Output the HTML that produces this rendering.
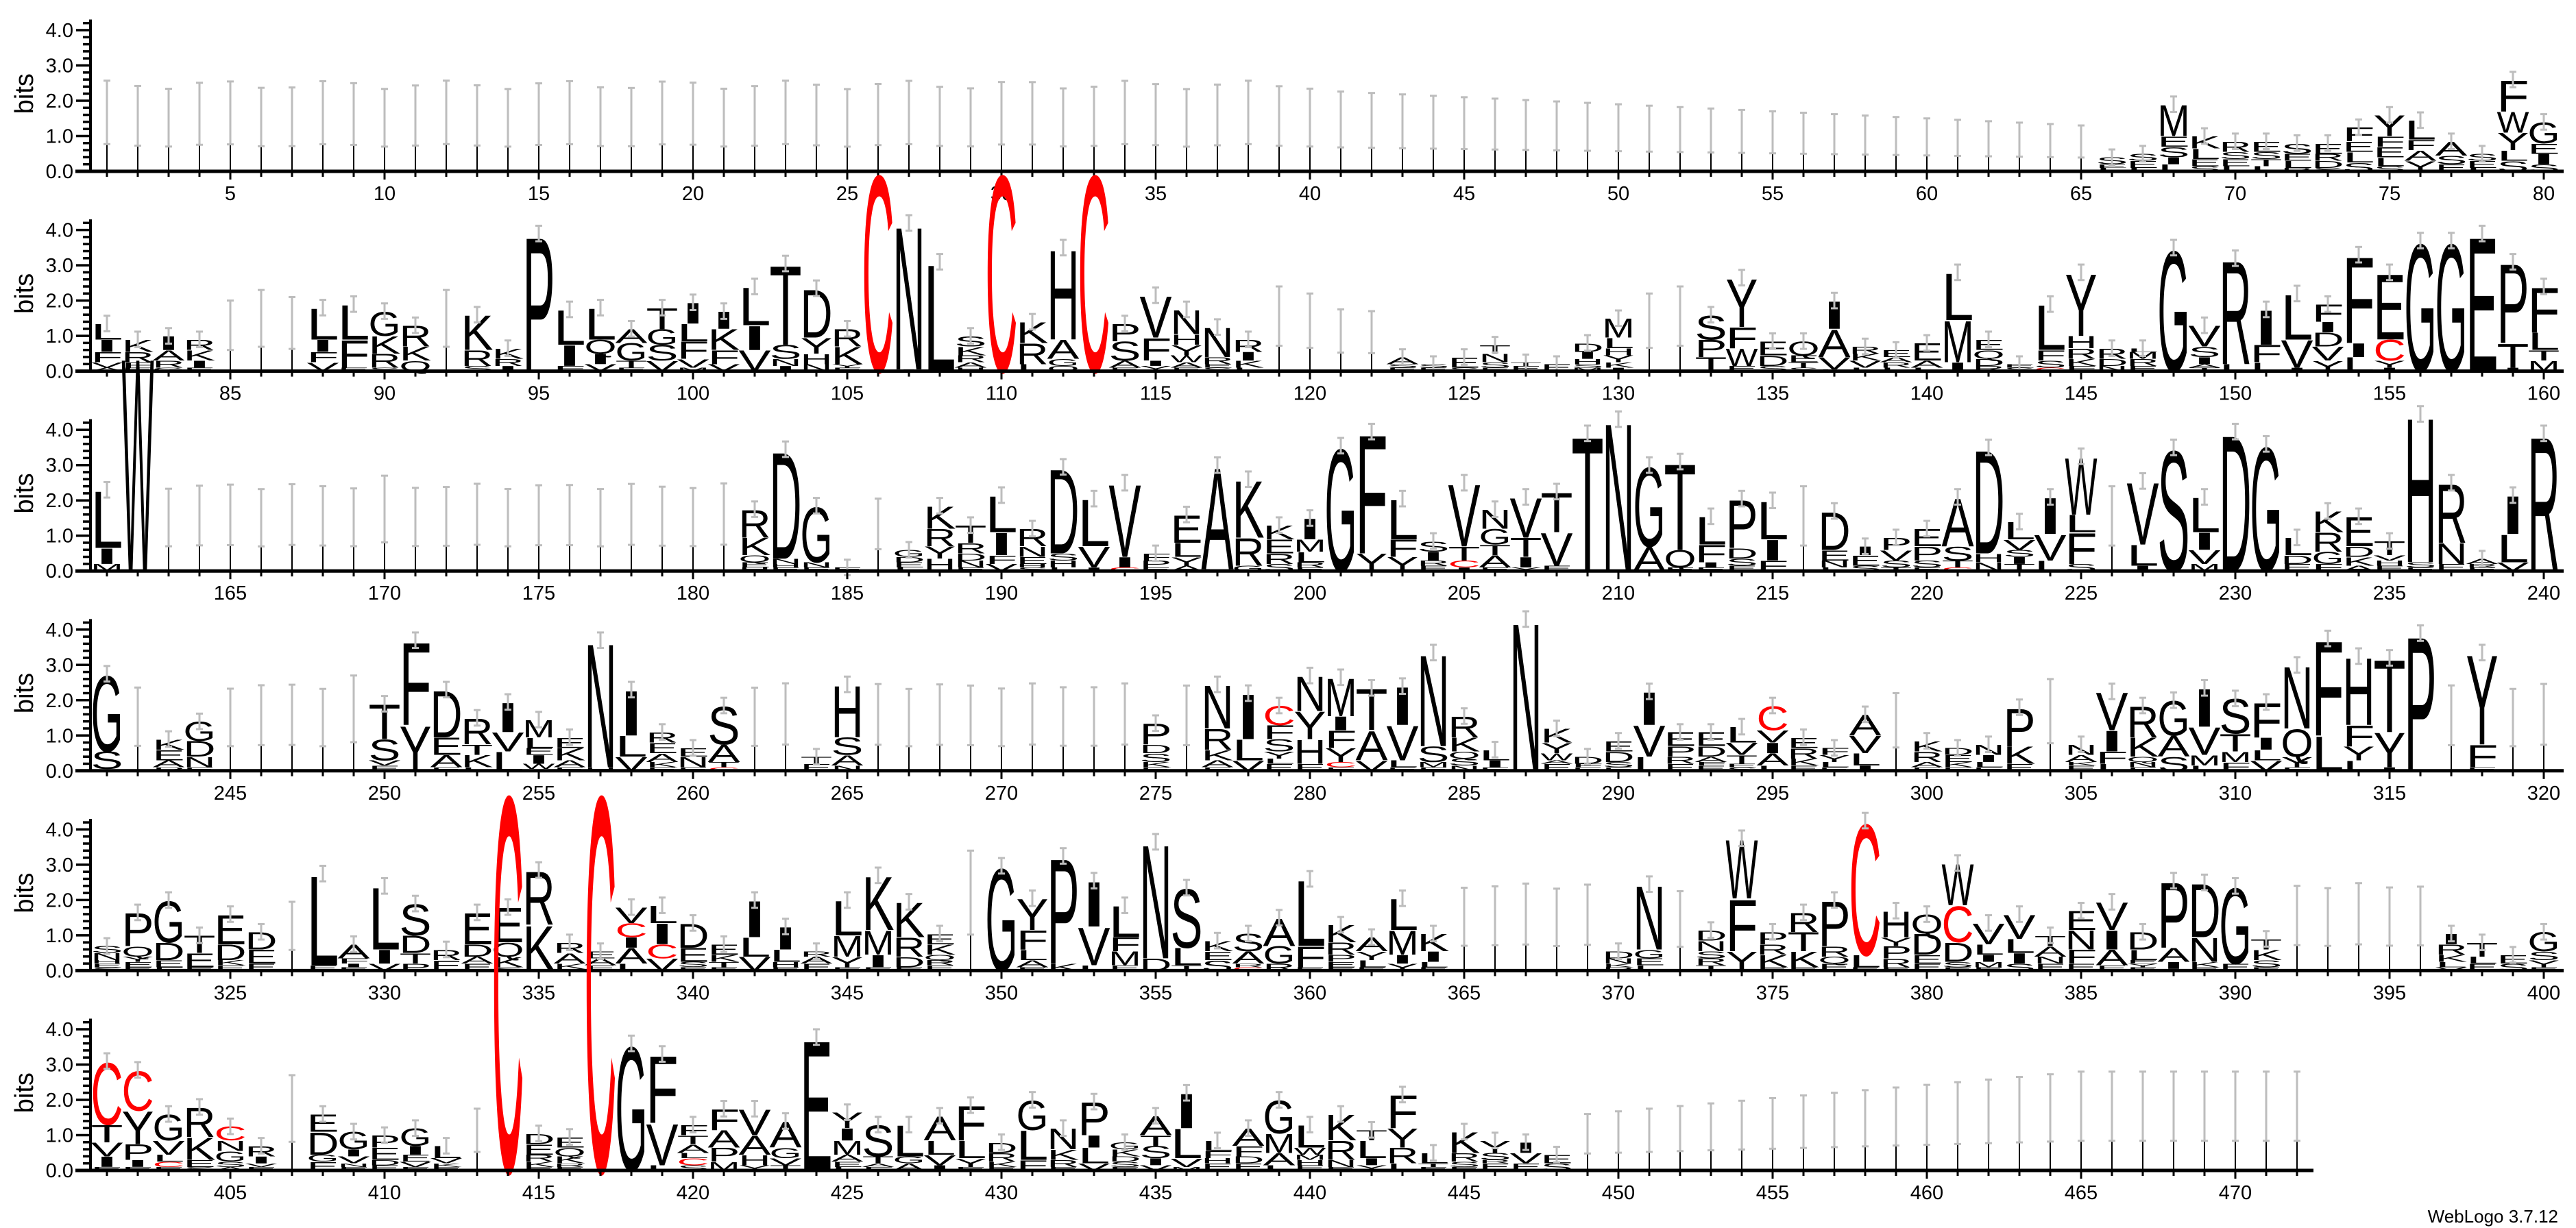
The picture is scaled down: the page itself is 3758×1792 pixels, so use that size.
<!DOCTYPE html>
<html><head><meta charset="utf-8"><style>
html,body{margin:0;padding:0;background:#fff;}
svg{display:block;}
</style></head><body>
<svg id="s" xmlns="http://www.w3.org/2000/svg" width="3758" height="1792" viewBox="0 0 3758 1792"></svg>
<script>
const BASE=[250,541.6,833.2,1124.8,1416.4,1708];
const START=[1,81,161,241,321,401];
const END=[80,160,240,320,400,472];
const BPX=51.5;
const DATA=`
66:S.2 E.1 L.1;67:S.2 E.2 L.1;68:M.9 E.3 S.3 I.2 L.2;69:K.35 L.3 E.2 S.15;70:R.3 S.2 E.2 L.15;71:E.3 S.2 T.2 L.15;72:S.3 E.2 L.2 R.1;73:E.3 R.2 D.2 S.1;74:F.4 E.3 L.3 S.25;75:Y.6 F.3 E.3 L.25 S.15;76:L.55 F.3 A.3 Y.3;77:A.4 S.25 E.2;78:S.2 E.2 L.1;79:F.9 W.6 Y.5 L.3 S.3;80:G.6 E.3 I.3 S.2;
81:L.45 I.35 F.3 V.15 A.1;82:K.35 R.3 F.15 E.1;83:I.4 A.3 R.2 G.1;84:R.3 K.3 I.2 E.1;85:b2.0;86:b2.3;87:b2.1;88:L.9 I.35 F.3 V.25;89:L1.0 F.8 E.1;90:G.7 K.5 R.4 S.1;91:R.6 K.4 Q.3;92:b2.3;93:K1.0 R.45 S.15;94:K.3 R.2 I.15;95:P3.9;96:L1.0 I.6 F.15;97:L.9 Q.4 I.3 V.2;98:A.4 G.5 T.2 E.1;99:T.6 G.45 S.45 V.3;100:I.6 L.5 F.5 V.25 M.1;101:I.5 K.6 F.4 V.2;102:L1.1 I.7 V.6;103:T2.3 S.4 N.2 I.15;104:D1.4 Y.45 H.3 N.2;105:R.5 K.5 Y.1 E.1;106:C5.7;107:N4.15 I.05;108:L3.1;109:S.3 K.25 R.2 A.15 H.1;110:C5.7;111:K.6 R.6 L.2;112:H2.6 A.55 G.2 Q.15;113:C5.7;114:P.5 S.55 A.2 E.1;115:V1.2 F.65 I.15 Y.15;116:N.7 H.3 Y.3 W.2 A.15 E.1;117:N.85 R.2 E.1 S.1;118:R.35 I.25 K.2 L.1;119:b2.4;120:b2.2;
121:b1.75;122:b1.7;123:A.2 S.1 E.1;124:S.1 E.1;125:E.3 S.1;126:T.25 N.25 S.15 E.1;127:T.1 E.15;128:E.2;129:D.25 I.2 H.15 S.1 M.1;130:M.55 L.3 H.2 Y.2 K.15 I.1;131:b2.2;132:b2.4;133:S.7 P.5 T.4;134:Y1.4 F.6 W.5 E.15;135:E.4 D.3 S.15;136:Q.4 E.2 T.15 S.1;137:I.8 A.8 V.35 L.05;138:R.2 K.2 V.2 L.1;139:E.2 A.15 R.15 L.1;140:E.5 A.2 L.1;141:L1.35 M1.2 I.25;142:E.3 Q.25 D.2 R.15;143:E.1 S.1;144:L1.3 F.3 S.2 C.1;145:Y1.8 H.35 R.3 K.2 F.15;146:R.3 D.2 N.15;147:L.1 M.2 R.2 E.15;148:G3.5;149:V.6 S.3 I.2 A.1 T.1;150:R3.0 L.2;151:I1.0 F.5 L.25;152:L1.3 V.8 I.1;153:F.5 I.3 D.4 V.4 Y.3;154:F2.5 I.4 L.4;155:E1.9 C.6 Y.2 I.1;156:G3.7;157:G3.7;158:E3.9;159:P2.3 T.7 I.1;160:F1.3 L.5 T.3 M.3;
161:L1.65 I.45 M.2;162:W6.2;170:b2.7;182:R.8 K.5 Q.2 E.15 H.1;183:D3.1 N.15 H.1 E.1;184:G1.6 N.15 E.1;185:E.1;186:b2.05;187:G.2 D.15 E.15 L.1;188:K.65 R.5 Y.35 H.35;189:T.5 R.3 D.2 N.2 E.1;190:L1.05 I.65 F.25 V.2;191:R.5 N.3 E.2 H.1 S.1;192:D2.45 S.2 H.2 L.1;193:L1.35 V.6 I.1;194:V2.1 I.3 C.1;195:F.2 P.2 E.1;196:E.8 L.4 Y.25 A.15;197:A2.95 E.05;198:K1.65 R.8 G.15;199:K.4 E.4 R.3 S.2;200:I.6 M.35 L.3 R.15 E.1;201:G3.55;202:F3.45 Y.5;203:L1.15 F.5 Y.4;204:S.3 I.25 R.15 E.15;205:V1.8 T.4 C.2 I.1;206:N.55 G.45 T.3 A.35 E.1;207:V1.15 T.55 I.3 Y.1;208:T1.15 V.95 E.15;209:T3.9;210:N4.3;211:G2.3 A.7;212:T2.5 Q.5 E.1;213:L.8 F.5 I.15 E.1;214:P1.4 D.3 S.2 E.15;215:L1.1 I.6 F.3;216:b2.4;217:D1.1 E.3 N.2 L.1;218:I.25 E.3 S.15;219:P.35 V.3 S.2 T.1;220:E.5 P.4 S.2 E.1;221:A1.4 S.4 T.2 C.1;222:D3.0 H.25 N.25;223:L.5 V.3 S.2 I.2 T.2;224:I1.05 V.75 L.3;225:W1.65 L.5 F.9 S.2;226:b2.4;227:V1.8 L.6 I.15;228:S3.5;229:L1.0 I.5 V.4 M.2;230:D3.95;231:G3.6;232:L.5 D.25 E.2;233:K.6 R.55 G.35 F.2;234:E.85 D.3 K.25 A.15;235:T.4 V.15 H.15 E.15;236:H4.2 S.15 E.1;237:R1.7 N.6 E.2;238:A.15 R.1 E.1;239:I1.1 L.8 V.25;240:R3.9;
241:G2.2 S.5 C.05;243:K.3 E.3 A.2 P.1;244:G.55 D.45 N.3 E.1;249:b2.7;250:T1.0 S.6 V.15 E.15;251:F2.4 Y1.3;252:D1.35 E.5 A.35 E.1;253:R.75 T.3 K.35 L.1;254:I.85 V.55 L.55;255:M.5 L.3 E.2 I.25 W.15 C.05;256:E.3 K.35 A.2 E.1;257:N3.6 H.1;258:I1.3 L.6 V.4;259:R.3 E.3 A.25 K.15 E.1;260:E.25 N.3 E.1;261:S1.1 A.5 T.15 C.1;264:T.2 E.2;265:H1.5 S.5 A.3 N.15;275:P.6 D.25 S.25 K.15 E.1;277:N1.25 R.6 K.3 A.2 E.1;278:I1.3 L.6 V.3;279:C.55 F.4 S.35 Y.2 L.15 E.2;280:N1.0 Y.8 H.7 E.2;281:M1.1 I.4 F.5 Y.4 C.15 E.1;282:T1.2 A.85 V.3;283:I1.1 V1.0 L.2 E.1;284:N2.65 S.45 M.15 E.1;285:R.6 K.4 Q.2 S.2 N.15;286:L.3 I.2 E.1;287:N4.3;288:K.4 Y.3 W.2 A.1 E.2;289:D.2 F.1 E.1;290:E.3 D.3 S.15 E.1;291:I.95 V.9 L.4;292:E.4 P.3 R.2 E.2;293:E.4 D.3 A.15 F.1 E.15;294:L.45 V.35 T.25 E.1 S.1;295:C.7 V.35 I.3 A.35 L.15;296:E.3 R.3 K.2 E.15;297:F.2 Y.2 L.15 E.1;298:A.6 V.5 L.35 I.15;299:b2.2;300:K.3 R.3 A.15 E.1;301:D.2 E.2 K.15 E.1;302:N.3 I.2 L.15 E.1;303:P1.1 K.5 E.2;304:b2.6;305:N.3 A.2 K.1 E.15;306:V1.1 I.6 F.35 L.2;307:R.9 K.55 Q.15 N.15 E.1;308:G1.0 A.6 S.4;309:I1.1 V.8 M.3 L.15;310:S1.0 T.5 M.3 F.25;311:F1.0 I.35 L.3 V.3;312:N1.8 Q.8 Y.3 E.1;313:F2.75 L1.0;314:H1.95 F.6 Y.4 L.3;315:T2.1 Y1.0 I.1;316:P3.9;318:Y2.6 F.65 E.1;
321:S.2 N.2 H.1 E.1 S.1;322:P.95 Q.3 Y.15 E.15 E.1;323:G1.2 D.5 E.2 F.1;324:T.5 E.4 E.1;325:E.85 D.45 K.15 E.15;326:D.5 E.4 E.2;327:b1.95;328:L2.6 E.15;329:A.4 F.15 I.1 E.1;330:L1.8 I.4 V.2;331:S.9 D.5 T.3 P.2;332:R.3 E.3;333:E.9 D.35 A.2 E.2;334:E1.0 Q.4 K.3 S.1;335:R1.55 K1.3;336:R.3 A.3 K.15 E.05;337:E.2 A.2 E.15;338:V.45 C.4 I.3 A.45 L.2;339:L.5 I.6 C.4 V.35;340:D.7 E.4 S.15 E.1;341:E.3 K.2 T.15 E.1;342:I1.05 L.55 V.4;343:I.65 L.35 H.15 E.1;344:R.15 A.2 E.2;345:L1.0 M.6 Y.3 E.1;346:K1.55 M.7 I.35 E.1;347:K1.0 R.55 D.3 E.1;348:E.3 K.3 Q.15 R.15 E.15;349:b3.4;350:G2.97;351:Y.9 F.55 L.3 A.2 E.1;352:P3.05 K.2;353:I1.3 V1.1 L.15;354:L.9 F.4 M.4 E.15;355:N3.3 D.35;356:S1.7 L.5 T.15;357:K.3 E.25 S.3;358:S.5 A.35 R.1 C.1;359:A.8 G.5 R.2;360:L1.9 F.6 E.1;361:K.5 R.35 P.2 E.15 E.1;362:A.4 Y.25 L.2 E.1;363:L.9 M.7 I.25 Y.2;364:K.5 I.3 L.15 E.1;370:D.2 N.15 K.1 R.1;371:N1.85 G.25 E.2 L.15;372:b2.25;373:D.3 N.3 S.2 R.2 T.15;374:W1.7 F1.5 Y.5 E.05;375:P.35 R.3 K.35 E.1;376:R.55 T.55 K.45 E.1;377:P1.3 R.3 Q.2 E.2;378:C3.8 L.35 E.1;379:H.75 Y.25 P.35 R.25 E.1;380:Q.55 D.6 E.25 E.2;381:W1.2 C1.05 D.55 S.15 E.1;382:V.6 L.3 I.2 M.15 E.1;383:V.7 L.4 I.3 S.2;384:T.3 A.3 N.2 E.2;385:E.55 N.55 F.4 E.2;386:V.8 I.55 A.45 E.15;387:D.5 L.3 E.1 Y.1 E.1;388:P1.9 A.4 I.2 E.05;389:D1.55 N.7 K.15 E.1;390:G2.2 E.2;391:T.3 K.3 S.2 E.1;397:I.3 R.3 K.2 L.15 V.1;398:T.4 L.2 E.2;399:E.25 S.2;400:G.55 S.25 Y.2 E.1;
401:C1.8 T.5 V.4 I.3 E.1;402:C1.15 Y.95 P.45 I.2 E.1;403:G.75 V.4 L.2 C.15 E.1;404:R.85 K.65 E.2 S.1;405:C.4 N.3 G.3 S.15 A.1;406:R.3 I.2 V.1 E.1;407:b2.7;408:E.5 D.65 G.2 E.25;409:G.5 I.2 V.2 N.1 E.1;410:P.35 E.35 D.15 E.15;411:G.5 I.25 E.2 V.15 E.1;412:L.35 V.15 K.1 E.1;413:b1.75;414:C10.9;415:D.3 E.3 R.2 K.15 E.1;416:E.3 Q.25 K.2 R.1 E.1;417:C10.9;418:G3.6;419:F1.95 V1.2 L.15;420:F.3 T.25 A.25 L.15 C.2 S.15;421:F.6 A.5 P.4 M.25;422:V.75 A.55 H.3 Y.15;423:A.75 G.3 V.2 T.15;424:E3.78;425:Y.45 I.35 M.4 A.2 E.15 L.1;426:S.9 T.2 A.1 F.1;427:L.9 G.2 A.2;428:A.7 L.4 V.3 I.15;429:F1.0 L.5 Y.25 E.1;430:D.3 R.25 K.15 E.1;431:G.85 L.85 F.3;432:N.6 K.3 R.2 E.1;433:P.95 I.35 L.45 V.2;434:G.2 K.2 D.15 S.15 E.1;435:A.55 T.3 S.35 I.2 V.15;436:I1.0 L.85 V.25 M.1;437:L.3 F.2 H.15 E.2;438:A.5 F.3 D.2 E.2;439:G.95 M.55 A.35 L.15;440:L.65 W.2 M.15 H.15 E.15;441:K.75 R.55 N.2 E.1;442:T.3 L.5 I.2 Y.15;443:F.95 Y.55 R.45 L.2;444:L.3 T.1 E.1;445:K.6 R.25 S.15 E.1;446:Y.35 S.2 R.1 E.2;447:I.3 V.3 E.2;448:E.25 S.2
`;
const D={};
DATA.replace(/\s*\n\s*/g,'').split(';').forEach(e=>{if(!e)return;const i=e.indexOf(':');D[+e.slice(0,i)]=e.slice(i+1).trim();});
let o=[];
const G='#bdbdbd';
function defTop(p){
  if(p<=40) return 2.45+0.12*Math.sin(p*1.7);
  if(p<=80) return Math.max(0.7,2.3-(p-40)*0.04);
  if(p>=449) return Math.min(2.8,1.6+(p-449)*0.075);
  return 2.4+0.08*Math.sin(p*2.3);
}
function ebar(x,cy,half,base){
  const t=base-(cy+half)*BPX,b=base-(cy-half)*BPX;
  o.push(`<line x1="${x}" y1="${t}" x2="${x}" y2="${b}" stroke="${G}" stroke-width="3"/>`);
  o.push(`<line x1="${x-5}" y1="${t}" x2="${x+5}" y2="${t}" stroke="${G}" stroke-width="3"/>`);
  o.push(`<line x1="${x-5}" y1="${b}" x2="${x+5}" y2="${b}" stroke="${G}" stroke-width="3"/>`);
}
for(let r=0;r<6;r++){
  const base=BASE[r];
  for(let p=START[r];p<=END[r];p++){
    const xc=156+45*(p-START[r]);
    const spec=D[p];
    if(!spec||spec[0]==='b'){
      const top=spec?parseFloat(spec.slice(1)):defTop(p);
      const bot=top*0.3;
      o.push(`<line x1="${xc}" y1="${base}" x2="${xc}" y2="${base-bot*BPX}" stroke="#000" stroke-width="2"/>`);
      ebar(xc,(top+bot)/2,(top-bot)/2,base);
      continue;
    }
    const toks=spec.split(/\s+/).map(t=>[t[0],parseFloat(t.slice(1))]);
    let tot=toks.reduce((a,t)=>a+t[1],0);
    let y=base-tot*BPX;
    for(const [L,h] of toks){
      const hp=h*BPX; y+=hp;
      if(hp<1.2) continue;
      const col=L==='C'?'#ff0000':'#000';
      o.push(`<text x="0" y="0" font-size="100" textLength="47" lengthAdjust="spacingAndGlyphs" fill="${col}" transform="translate(${xc-23.5},${y.toFixed(1)}) scale(1,${(hp/71.6).toFixed(4)})">${L}</text>`);
    }
    if(tot<5) ebar(xc,tot,0.22,base);
  }
  const yt=base-4.3*BPX;
  o.push(`<line x1="132" y1="${yt}" x2="132" y2="${base}" stroke="#000" stroke-width="4"/>`);
  const xend=r===5?156+45*(472-401)+24:3740;
  o.push(`<line x1="110" y1="${base}" x2="${xend}" y2="${base}" stroke="#000" stroke-width="5"/>`);
  for(let b=0;b<=4.21;b+=0.2){
    const yy=base-b*BPX;
    const maj=Math.abs(b-Math.round(b))<0.01;
    o.push(`<line x1="${maj?111:121}" y1="${yy}" x2="132" y2="${yy}" stroke="#000" stroke-width="3.5"/>`);
    if(maj) o.push(`<text x="107" y="${yy+10}" font-size="29" text-anchor="end">${Math.round(b)}.0</text>`);
  }
  o.push(`<text transform="translate(48,${base-2.2*BPX}) rotate(-90)" font-size="38" text-anchor="middle">bits</text>`);
  for(let p=START[r];p<=END[r];p++){
    const xc=156+45*(p-START[r]);
    const m=p%5===0;
    o.push(`<line x1="${xc}" y1="${base}" x2="${xc}" y2="${base+(m?12:8)}" stroke="#000" stroke-width="3"/>`);
    if(m) o.push(`<text x="${xc}" y="${base+42}" font-size="29" text-anchor="middle">${p}</text>`);
  }
}
o.push(`<text x="3732" y="1784" font-size="26" text-anchor="end">WebLogo 3.7.12</text>`);
const s=document.getElementById('s');
s.setAttribute('font-family','Liberation Sans, Arial, sans-serif');
s.innerHTML=o.join('');
</script>
</body></html>
